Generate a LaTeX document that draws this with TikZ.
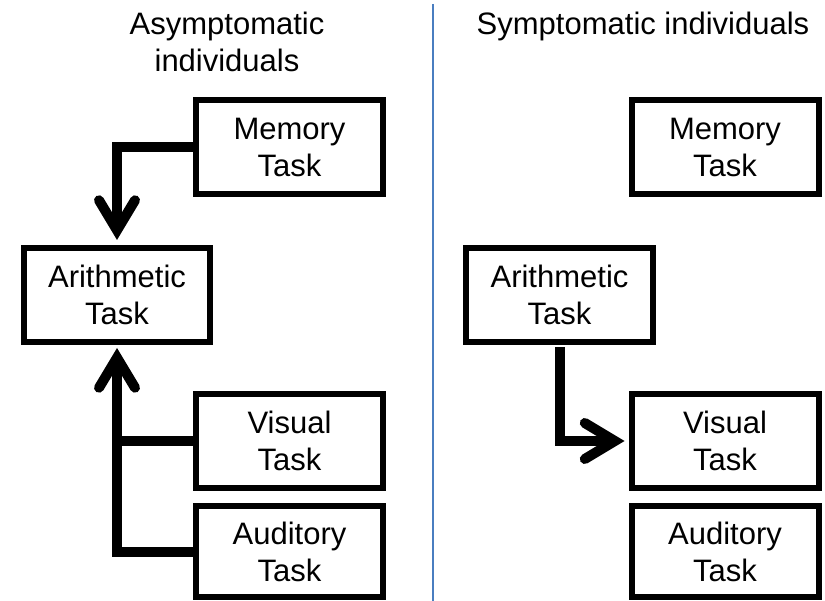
\documentclass[tikz,border=0pt]{standalone}
\usepackage{fontspec}
\setmainfont{Liberation Sans}
\usetikzlibrary{arrows.meta}
\definecolor{divblue}{RGB}{74,126,192}
\begin{document}
\begin{tikzpicture}[x=1pt,y=-1pt,
  task/.style={draw=black, line width=6pt, minimum width=187pt, minimum height=94pt,
    inner sep=0pt, align=center, font=\fontsize{31}{37}\selectfont},
  title/.style={align=center, font=\fontsize{31}{37}\selectfont, inner sep=0pt},
  conn/.style={draw=black, line width=10pt, line join=miter},
  tip/.style={-{Straight Barb[length=30pt,width=36pt,line cap=round,line join=miter]}}
]
\useasboundingbox (0,0) rectangle (825,601);
% divider
\draw[divblue, line width=2pt] (432.5,4) coordinate (dtop) -- (432.5,601) coordinate (dbot);
% titles
\node[title, anchor=base] (t1a) at (227,35) {Asymptomatic};
\node[title, anchor=base] (t1b) at (227,72) {individuals};
\node[title, anchor=base] (t2) at (643,35) {Symptomatic individuals};
% left boxes
\node[task] (memL) at (289.5,147) {Memory\\Task};
\node[task, minimum width=186pt] (arL) at (117,295) {Arithmetic\\Task};
\node[task] (visL) at (289.5,441) {Visual\\Task};
\node[task, minimum height=91pt] (audL) at (289.5,551.5) {Auditory\\Task};
% right boxes
\node[task] (memR) at (725,147) {Memory\\Task};
\node[task] (arR) at (559.5,295) {Arithmetic\\Task};
\node[task] (visR) at (725,441) {Visual\\Task};
\node[task, minimum height=91pt] (audR) at (725,551.5) {Auditory\\Task};
% left connectors
\draw[conn, tip, shorten >=5pt] (memL.west) -| (arL.north);
\draw[conn, tip, shorten >=3pt] (audL.west) -| (arL.south);
\draw[conn] (visL.west) -- (visL.west -| arL.south);
% right connector
\draw[conn, tip, shorten <=2pt, shorten >=4pt] (arR.south) |- (visR.west);
\end{tikzpicture}
\end{document}
